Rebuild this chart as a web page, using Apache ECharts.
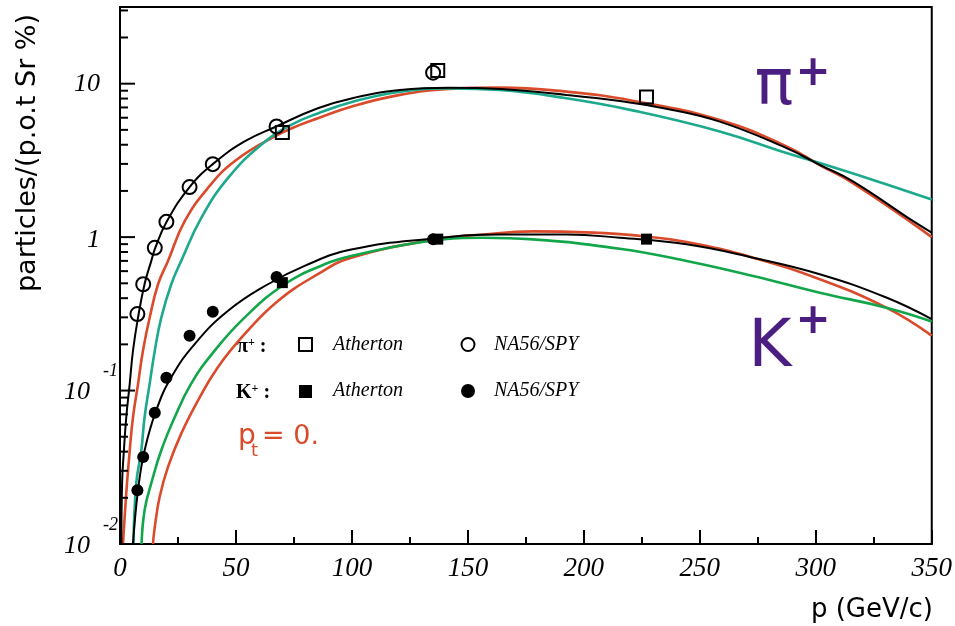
<!DOCTYPE html>
<html>
<head>
<meta charset="utf-8">
<script src="https://cdn.jsdelivr.net/npm/echarts@6/dist/echarts.min.js"></script>
<style>
html, body { margin: 0; padding: 0; background: #ffffff; }
#main { width: 955px; height: 626px; }
</style>
</head>
<body>
<div id="main"></div>
<script>
// ---- measured yields, particles/(p.o.t Sr %) versus p (GeV/c) ----
const naP      = [7.5, 10, 15, 20, 30, 40, 67.5, 135];
const naPion   = [0.315, 0.493, 0.852, 1.257, 2.12, 2.99, 5.26, 11.8];
const naKaon   = [0.0224, 0.0369, 0.0717, 0.121, 0.228, 0.326, 0.55, 0.97];
const athP     = [70, 137, 227];
const athPion  = [4.8, 12.2, 8.2];
const athKaon  = [0.505, 0.97, 0.97];

// ---- model curves, [p, yield] ----
const pionFit = [[0.6, 0.01], [0.9, 0.025], [1.7, 0.041], [2.7, 0.067], [4.2, 0.111], [5.6, 0.182],
  [7.76, 0.298], [10.6, 0.495], [13.5, 0.70], [15.2, 0.85], [20, 1.25], [30, 2.12], [40, 2.99],
  [53.7, 4.2], [67.4, 5.26], [85.3, 6.91], [101, 8.1], [120.7, 9.1], [142, 9.42], [164, 9.22],
  [192.5, 8.45], [215.5, 7.7], [235, 6.9], [258.6, 5.66], [287.4, 3.8], [301.7, 2.96], [316, 2.31],
  [342, 1.27], [350, 1.07]];
const pionRed = [[1.3, 0.01], [2.7, 0.0214], [4.2, 0.0408], [5.6, 0.067], [7.8, 0.111], [9.9, 0.182],
  [12.8, 0.299], [16.4, 0.493], [20.7, 0.70], [27.9, 1.27], [37.9, 2.09], [49.4, 3.12], [66.7, 4.53],
  [77.6, 5.39], [85.3, 5.95], [100, 7.1], [120.7, 8.45], [142, 9.23], [164, 9.42], [192.5, 8.87],
  [221, 7.75], [258.6, 5.8], [287.4, 3.9], [301.7, 2.95], [316, 2.25], [342, 1.22], [350, 1.0]];
const pionTeal = [[5.8, 0.01], [7.0, 0.0248], [9.2, 0.0408], [10.6, 0.067], [12.8, 0.111], [15.0, 0.182],
  [17.8, 0.299], [22.1, 0.493], [26.4, 0.70], [35.0, 1.33], [46.6, 2.43], [60.9, 4.0], [73.8, 5.39],
  [85.3, 6.4], [100, 7.6], [120.7, 8.87], [142.2, 9.32], [163.8, 9.1], [192.5, 8.03], [221, 6.7],
  [258.6, 4.88], [287.4, 3.53], [301.7, 3.04], [325, 2.35], [350, 1.76]];

const kaonFit = [[5.6, 0.01], [7.76, 0.0224], [10.6, 0.0407], [15.6, 0.0742], [22.1, 0.122], [32.2, 0.201],
  [46.6, 0.331], [63.8, 0.493], [79.6, 0.65], [99.7, 0.83], [135, 0.98], [163.8, 1.04], [192.5, 1.04],
  [215.5, 0.99], [244.3, 0.897], [273, 0.734], [301.7, 0.573], [330.4, 0.404], [350, 0.292]];
const kaonRed = [[14.2, 0.01], [15, 0.0129], [17.1, 0.0203], [20.7, 0.0318], [26.4, 0.0524], [33.6, 0.086],
  [42.2, 0.142], [53.7, 0.233], [68.1, 0.384], [85.3, 0.573], [99.7, 0.734], [135, 0.96], [156.5, 1.04],
  [178, 1.09], [207, 1.066], [221, 1.03], [244.3, 0.93], [273, 0.734], [301.7, 0.531], [330.4, 0.347],
  [350, 0.228]];
const kaonGreen = [[9.3, 0.01], [10.6, 0.0166], [13.5, 0.0249], [17.8, 0.0408], [23.6, 0.067], [30.7, 0.111],
  [40.8, 0.182], [53.7, 0.299], [71, 0.493], [88.2, 0.665], [99.7, 0.753], [135, 0.95], [156.5, 0.99],
  [178, 0.966], [215.5, 0.84], [244.3, 0.699], [273, 0.558], [301.7, 0.434], [330.4, 0.347], [350, 0.282]];

// ---- axis ticks ----
const xRange = [0, 350];
const yRange = [0.01, 31.6];
const yMajorTicks = [0.01, 0.1, 1, 10];
const yMinorTicks = [0.02, 0.03, 0.04, 0.05, 0.06, 0.07, 0.08, 0.09,
  0.2, 0.3, 0.4, 0.5, 0.6, 0.7, 0.8, 0.9, 2, 3, 4, 5, 6, 7, 8, 9, 20, 30];

const RED = '#DA4B2C', TEAL = '#1DA98C', GREEN = '#12A64A', PURPLE = '#4B1E82';
const SERIF = '"Liberation Serif", "DejaVu Serif", serif';
const SANS = '"DejaVu Sans", "Noto Sans", sans-serif';

const yTickData = yMajorTicks.map(v => [0, v, 1]).concat(yMinorTicks.map(v => [0, v, 0]));

function curve(data, color, width, z) {
  return {
    type: 'line', data: data, smooth: 0.45,
    showSymbol: false, symbol: 'none', silent: true, z: z,
    lineStyle: { color: color, width: width }
  };
}

function markers(xs, ys, symbol, size, filled) {
  return {
    type: 'scatter', z: 5, silent: true, symbol: symbol, symbolSize: size,
    data: xs.map((p, i) => [p, ys[i]]),
    itemStyle: filled
      ? { color: '#000', opacity: 1 }
      : { color: 'rgba(255,255,255,0)', borderColor: '#000', borderWidth: 2, opacity: 1 }
  };
}

const chart = echarts.init(document.getElementById('main'), null, { renderer: 'canvas' });

chart.setOption({
  animation: false,
  backgroundColor: '#ffffff',
  grid: { left: 120, right: 23, top: 7, bottom: 82, show: true, borderColor: '#000', borderWidth: 2,
          backgroundColor: 'rgba(0,0,0,0)' },
  xAxis: {
    type: 'value', min: xRange[0], max: xRange[1], interval: 50,
    axisLine: { show: true, lineStyle: { color: '#000', width: 2 } },
    axisTick: { show: true, inside: true, length: 14, lineStyle: { color: '#000', width: 2 } },
    minorTick: { show: true, splitNumber: 2, length: 7, lineStyle: { color: '#000', width: 2 } },
    splitLine: { show: false },
    axisLabel: { color: '#000', fontFamily: SERIF, fontStyle: 'italic', fontSize: 27, margin: 11 }
  },
  yAxis: {
    type: 'log', logBase: 10, min: yRange[0], max: yRange[1],
    axisLine: { show: true, lineStyle: { color: '#000', width: 2 } },
    axisTick: { show: false },
    minorTick: { show: false },
    splitLine: { show: false },
    axisLabel: { show: false }
  },
  series: [
    {
      type: 'custom', silent: true, z: 6, data: yTickData, encode: { x: 0, y: 1 },
      renderItem: function (params, api) {
        const pt = api.coord([0, api.value(1)]);
        const len = api.value(2) ? 15 : 8;
        return { type: 'line', shape: { x1: pt[0], y1: pt[1], x2: pt[0] + len, y2: pt[1] },
                 style: { stroke: '#000', lineWidth: 2 } };
      }
    },
    curve(pionRed, RED, 2.6, 2),
    curve(pionTeal, TEAL, 2.6, 2),
    curve(kaonRed, RED, 2.6, 2),
    curve(kaonGreen, GREEN, 2.6, 2),
    curve(pionFit, '#000', 2, 3),
    curve(kaonFit, '#000', 2, 3),
    markers(naP, naPion, 'circle', 14, false),
    markers(athP, athPion, 'rect', 13, false),
    markers(naP, naKaon, 'circle', 12, true),
    markers(athP, athKaon, 'rect', 11, true)
  ]
});

// decade labels of the log axis, placed at the axis' own pixel positions
const yAxisX = chart.convertToPixel({ xAxisIndex: 0 }, xRange[0]);
const labelFont = 'italic 26px ' + SERIF;
const yLabelEls = [];
yMajorTicks.forEach(function (v) {
  const y = chart.convertToPixel({ yAxisIndex: 0 }, v);
  const e = Math.round(Math.log10(v));
  if (e >= 0) {
    yLabelEls.push({ type: 'text', x: yAxisX - 20, y: y + (e === 0 ? 3 : 0),
      style: { text: String(Math.pow(10, e)), font: labelFont, fill: '#000', align: 'right', verticalAlign: 'middle' } });
  } else {
    yLabelEls.push({ type: 'text', x: yAxisX - 30, y: y + 2,
      style: { text: '10', font: labelFont, fill: '#000', align: 'right', verticalAlign: 'middle' } });
    yLabelEls.push({ type: 'text', x: yAxisX - 2, y: y - 19,
      style: { text: String(e), font: 'italic 18px ' + SERIF, fill: '#000', align: 'right', verticalAlign: 'middle' } });
  }
});

chart.setOption({
  graphic: yLabelEls.concat([
    // axis titles
    { type: 'text', x: 28, y: 153, rotation: Math.PI / 2,
      style: { text: 'particles/(p.o.t Sr %)', font: '27px ' + SANS, fill: '#000', align: 'center', verticalAlign: 'middle' } },
    { type: 'text', x: 933, y: 610,
      style: { text: 'p (GeV/c)', font: '26px ' + SANS, fill: '#000', align: 'right', verticalAlign: 'middle' } },
    // particle labels
    { type: 'text', x: 774, y: 87,
      style: { text: 'π', font: '64px ' + SANS, fill: PURPLE, align: 'center', verticalAlign: 'middle' } },
    { type: 'text', x: 813, y: 74,
      style: { text: '+', font: 'bold 42px ' + SANS, fill: PURPLE, align: 'center', verticalAlign: 'middle' } },
    { type: 'text', x: 770, y: 349,
      style: { text: 'K', font: '66px ' + SANS, fill: PURPLE, align: 'center', verticalAlign: 'middle' } },
    { type: 'text', x: 813, y: 322,
      style: { text: '+', font: 'bold 42px ' + SANS, fill: PURPLE, align: 'center', verticalAlign: 'middle' } },
    // legend
    { type: 'text', x: 237, y: 347,
      style: { text: '{a|π}{b|+}{a| :}', fill: '#000', align: 'left', verticalAlign: 'middle',
               rich: { a: { font: 'bold 20px ' + SERIF, verticalAlign: 'bottom' },
                       b: { font: 'bold 12px ' + SERIF, verticalAlign: 'top' } } } },
    { type: 'rect', shape: { x: 299, y: 338, width: 13, height: 13 },
      style: { fill: 'rgba(0,0,0,0)', stroke: '#000', lineWidth: 2 } },
    { type: 'text', x: 333, y: 345,
      style: { text: 'Atherton', font: 'italic 20px ' + SERIF, fill: '#000', align: 'left', verticalAlign: 'middle' } },
    { type: 'circle', shape: { cx: 468, cy: 344.5, r: 6.5 },
      style: { fill: 'rgba(0,0,0,0)', stroke: '#000', lineWidth: 2 } },
    { type: 'text', x: 494, y: 345,
      style: { text: 'NA56/SPY', font: 'italic 20px ' + SERIF, fill: '#000', align: 'left', verticalAlign: 'middle' } },
    { type: 'text', x: 236, y: 393,
      style: { text: '{a|K}{b|+}{a| :}', fill: '#000', align: 'left', verticalAlign: 'middle',
               rich: { a: { font: 'bold 20px ' + SERIF, verticalAlign: 'bottom' },
                       b: { font: 'bold 12px ' + SERIF, verticalAlign: 'top' } } } },
    { type: 'rect', shape: { x: 299, y: 385, width: 13, height: 13 },
      style: { fill: '#000' } },
    { type: 'text', x: 333, y: 391,
      style: { text: 'Atherton', font: 'italic 20px ' + SERIF, fill: '#000', align: 'left', verticalAlign: 'middle' } },
    { type: 'circle', shape: { cx: 468, cy: 391, r: 7 },
      style: { fill: '#000' } },
    { type: 'text', x: 494, y: 391,
      style: { text: 'NA56/SPY', font: 'italic 20px ' + SERIF, fill: '#000', align: 'left', verticalAlign: 'middle' } },
    // transverse momentum note
    { type: 'text', x: 238, y: 437,
      style: { text: 'p', font: '28px ' + SANS, fill: RED, align: 'left', verticalAlign: 'middle' } },
    { type: 'text', x: 251, y: 451,
      style: { text: 't', font: '18px ' + SANS, fill: RED, align: 'left', verticalAlign: 'middle' } },
    { type: 'text', x: 262, y: 437,
      style: { text: '= 0.', font: '27px ' + SANS, fill: RED, align: 'left', verticalAlign: 'middle' } }
  ])
});
</script>
</body>
</html>
